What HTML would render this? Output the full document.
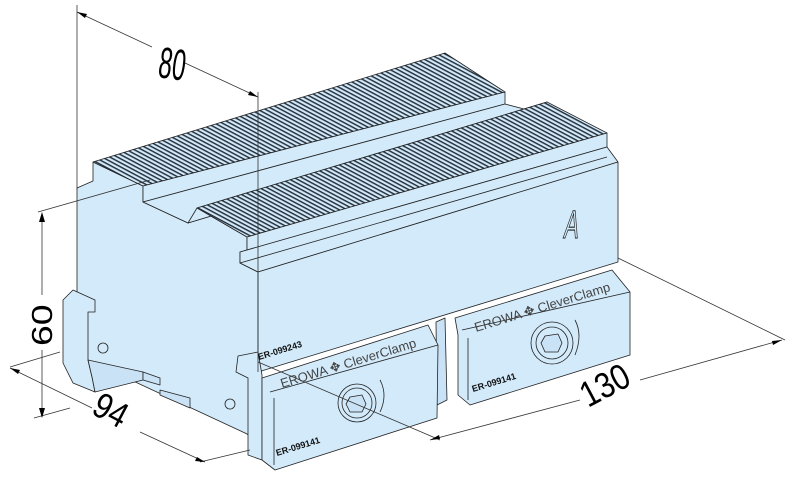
<!DOCTYPE html>
<html><head><meta charset="utf-8"><style>
html,body{margin:0;padding:0;background:#fff;width:801px;height:478px;overflow:hidden}
svg{display:block}
text{font-family:"Liberation Sans",sans-serif}
</style></head><body>
<svg width="801" height="478" viewBox="0 0 801 478" xmlns="http://www.w3.org/2000/svg">
<defs>
<pattern id="ser" width="3.6" height="3.6" patternUnits="userSpaceOnUse" patternTransform="rotate(28)">
<rect width="4" height="4" fill="#d2eafa"/>
<rect y="0" width="4" height="1.5" fill="#2a3440"/>
</pattern>
</defs>
<g stroke="#222" stroke-width="0.8" stroke-linejoin="round" fill="#d2eafa">
<!-- left face -->
<polygon points="77,188 93,181 93,162 143,186 143,202 188,223 197,208 247,237 247,250 240,252 240,263 258,272 258,440 245,433 88,360 77,355"/>
<!-- left clamp profile -->
<polygon points="63,300 73,290 95,300 95,312 88,312 88,360 92,377 95,392 73,383 63,363"/>
<polygon points="88,360 143,372 143,380 95,392 92,377" fill="#c9e2f5"/>
<polygon points="143,372 160,378 160,385 143,380" fill="#c9e2f5"/>
<polygon points="160,390 190,398 190,408 160,395" fill="#c9e2f5"/>
<circle cx="103" cy="348" r="5" fill="none"/>
<circle cx="230" cy="404" r="5" fill="none"/>
<!-- rib 1 -->
<polygon points="93,162 445,53 505,92 143,186" fill="url(#ser)"/>
<polygon points="143,186 505,92 505,104 143,202"/>
<!-- groove -->
<polygon points="143,202 505,104 547,115 188,223"/>
<polygon points="188,223 197,208 547,102 547,115"/>
<!-- rib 2 -->
<polygon points="197,208 547,102 607,133 247,237" fill="url(#ser)"/>
<polygon points="247,237 607,133 607,147 247,250"/>
<polygon points="240,252 607,147 618,162 258,272 240,263"/>
<line x1="240" y1="263" x2="607" y2="157"/>
<!-- front face -->
<polygon points="258,272 618,162 618,262 258,372"/>
<!-- lower left front pieces -->
<polygon points="238,356 258,352 262,375 262,460 248,455 248,378 236,372"/>
<polygon points="436,322 445,318 447,400 437,405" fill="#c9e2f5"/>
<!-- clamp 1 -->
<polygon points="262,378 428,325 438,345 437,418 275,470 262,460"/>
<line x1="270" y1="392" x2="438" y2="345"/>
<line x1="274" y1="398" x2="274" y2="465"/>
<circle cx="357" cy="403" r="19"/>
<circle cx="357" cy="403" r="15" fill="none"/>
<polygon points="350,397 362,395 366,404 362,412 350,412 346,404" fill="#c9e2f5"/>
<path d="M380,380 Q388,395 380,412" fill="none"/>
<!-- clamp 2 -->
<polygon points="455,318 612,270 630,292 630,355 470,405 458,395 458,335"/>
<line x1="462" y1="330" x2="630" y2="292"/>
<line x1="468" y1="338" x2="468" y2="400"/>
<circle cx="552" cy="343" r="21"/>
<circle cx="552" cy="343" r="16" fill="none"/>
<polygon points="545,336 558,334 562,343 558,352 545,352 541,343" fill="#c9e2f5"/>
<path d="M575,320 Q583,335 575,355" fill="none"/>
</g>
<!-- dimension lines -->
<g stroke="#333" stroke-width="0.8" fill="none">
<line x1="77" y1="5" x2="77" y2="190"/>
<line x1="258" y1="92" x2="258" y2="372"/>
<line x1="77" y1="12" x2="152" y2="47"/>
<line x1="185" y1="63" x2="258" y2="97"/>
<line x1="38" y1="212" x2="150" y2="180"/>
<line x1="42" y1="215" x2="42" y2="295"/>
<line x1="42" y1="350" x2="42" y2="417"/>
<line x1="34" y1="418" x2="70" y2="408"/>
<line x1="10" y1="367" x2="60" y2="352"/>
<line x1="10" y1="368" x2="92" y2="408"/>
<line x1="140" y1="432" x2="205" y2="462"/>
<line x1="200" y1="462" x2="250" y2="450"/>
<line x1="618" y1="258" x2="785" y2="340"/>
<line x1="430" y1="440" x2="580" y2="400"/>
<line x1="640" y1="380" x2="782" y2="340"/>
<line x1="258" y1="362" x2="440" y2="440"/>
</g>
<g fill="#000">
<path d="M77,12 l10,2 l-2,4z"/><path d="M258,97 l-10,-2 l2,-4z"/>
<path d="M42,212 l-3,10 h6z"/><path d="M42,418 l-3,-10 h6z"/>
<path d="M10,368 l10,2 l-2,4z"/><path d="M205,462 l-10,-1 l2,-4z"/>
<path d="M430,440 l9,-5 l1,4z"/><path d="M782,340 l-9,5 l-1,-4z"/>
</g>
<text font-size="44" transform="translate(157,77) rotate(8) scale(0.55,1)">80</text>
<text font-size="34" transform="translate(52,346) rotate(-90) scale(1.1,0.85)">60</text>
<text font-size="36" transform="translate(90,413) rotate(28) scale(0.85,1)">94</text>
<text font-size="36" transform="translate(588,408) rotate(-28) scale(0.85,1)">130</text>
<text font-size="36" fill="none" stroke="#222" stroke-width="1" transform="translate(563,238) skewX(-8) scale(0.6,1.1)">A</text>
<g font-size="9" fill="#111" font-weight="bold">
<text transform="translate(259,360) rotate(-17)">ER-099243</text>
<text transform="translate(277,456) rotate(-17)">ER-099141</text>
<text transform="translate(473,392) rotate(-17)">ER-099141</text>
</g>
<g font-size="13" fill="#444">
<text transform="translate(282,388) rotate(-17)">EROWA ✥ CleverClamp</text>
<text transform="translate(476,332) rotate(-17)">EROWA ✥ CleverClamp</text>
</g>
</svg>
</body></html>
